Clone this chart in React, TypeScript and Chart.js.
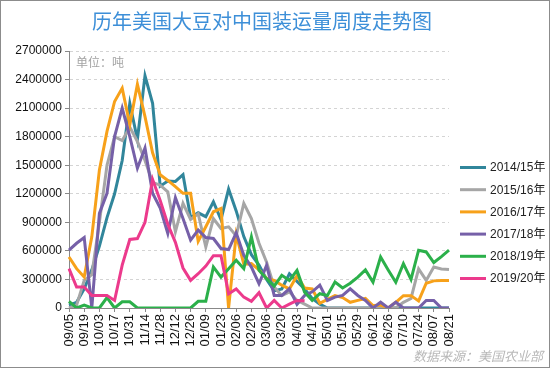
import React, { useEffect, useRef } from "react";
import { Chart, registerables } from "chart.js";

Chart.register(...registerables);

const TITLE = "历年美国大豆对中国装运量周度走势图";
const UNIT = "单位：吨";
const SOURCE = "数据来源：美国农业部";

const weeks = [
  "09/05", "09/12", "09/19", "09/26", "10/03", "10/10", "10/17", "10/24", "10/31", "11/07",
  "11/14", "11/21", "11/28", "12/05", "12/12", "12/19", "12/26", "01/02", "01/09", "01/16",
  "01/23", "01/30", "02/06", "02/13", "02/20", "02/27", "03/06", "03/13", "03/20", "03/27",
  "04/03", "04/10", "04/17", "04/24", "05/01", "05/08", "05/15", "05/22", "05/29", "06/05",
  "06/12", "06/19", "06/26", "07/03", "07/10", "07/17", "07/24", "07/31", "08/07", "08/14",
  "08/21",
];

const seriesNames = ["2014/15年", "2015/16年", "2016/17年", "2017/18年", "2018/19年", "2019/20年"];
const seriesColors = ["#31869b", "#a6a6a6", "#f7a11a", "#7660a8", "#2bb04a", "#ec3a8c"];

const s1415 = [
  30000, 60000, 200000, 400000, 650000, 950000, 1200000, 1550000, 2150000, 1770000,
  2440000, 2150000, 1280000, 1335000, 1330000, 1400000, 950000, 1000000, 960000, 1115000,
  930000, 1250000, 1020000, 750000, 560000, 450000, 300000, 180000, 200000, 360000,
  280000, 200000, 100000, 40000, 0, 0, 0, 0, 0, 0,
  0, 0, 0, 0, 0, 0, 0, 0, 0, 0,
  0,
];
const s1516 = [
  0, 30000, 290000, 350000, 900000, 1500000, 1800000, 1760000, 1900000, 1750000,
  1550000, 1320000, 1290000, 1220000, 800000, 1100000, 930000, 990000, 640000, 940000,
  835000, 853000, 760000, 1100000, 940000, 680000, 480000, 220000, 130000, 170000,
  80000, 40000, 0, 0, 0, 0, 0, 0, 0, 0,
  0, 0, 0, 0, 60000, 100000, 410000, 290000, 430000, 410000,
  405000,
];
const s1617 = [
  536000, 413000, 325000, 747000, 1450000, 1855000, 2170000, 2310000, 1925000, 2350000,
  2010000, 1630000, 1400000, 1340000, 1275000, 1205000, 1205000, 700000, 853000, 1011000,
  1046000, 0, 770000, 460000, 466000, 400000, 310000, 290000, 240000, 200000,
  340000, 210000, 200000, 50000, 90000, 130000, 110000, 60000, 80000, 100000,
  25000, 30000, 0, 60000, 130000, 130000, 75000, 260000, 285000, 288000,
  290000,
];
const s1718 = [
  607000, 680000, 740000, 0, 994000, 1205000, 1800000, 2100000, 1800000, 1468000,
  1680000, 1205000, 1050000, 783000, 1160000, 940000, 712000, 818000, 740000, 730000,
  625000, 614000, 790000, 554000, 430000, 255000, 448000, 132000, 132000, 202000,
  40000, 132000, 170000, 240000, 79000, 114000, 132000, 202000, 132000, 79000,
  0, 61000, 0, 61000, 0, 0, 0, 79000, 79000, 0,
  0,
];
const s1819 = [
  70000, 0, 30000, 0, 0, 110000, 0, 65000, 65000, 0,
  0, 0, 0, 0, 0, 0, 0, 70000, 70000, 430000,
  325000, 413000, 501000, 413000, 747000, 395000, 308000, 230000, 343000, 290000,
  395000, 167000, 79000, 150000, 132000, 272000, 210000, 260000, 325000, 400000,
  272000, 536000, 400000, 270000, 466000, 300000, 607000, 589000, 478000, 540000,
  607000,
];
const s1920 = [
  413000, 220000, 220000, 132000, 132000, 132000, 80000, 450000, 720000, 730000,
  900000, 1350000, 1130000, 880000, 690000, 420000, 290000, 360000, 440000, 550000,
  550000, 150000, 200000, 114000, 70000, 160000, 0, 79000, 0, 40000,
  79000, 75000, null, null, null, null, null, null, null, null,
  null, null, null, null, null, null, null, null, null, null,
  null,
];

const seriesValues = [s1415, s1516, s1617, s1718, s1819, s1920];

const Y_MAX = 2700000;
const Y_STEP = 300000;

const LATIN = "'Liberation Sans', Arial, 'Noto Sans CJK SC', sans-serif";
const CJK = "'Noto Sans CJK SC', 'Liberation Sans', sans-serif";

const decor = {
  id: "decor",
  beforeDraw(chart: any) {
    const c = chart.ctx;
    c.save();
    c.fillStyle = "#ffffff";
    c.fillRect(0, 0, chart.width, chart.height);
    c.restore();
  },
  afterDraw(chart: any) {
    const c = chart.ctx;
    c.save();
    c.strokeStyle = "#8c8c8c";
    c.lineWidth = 1;
    c.strokeRect(0.5, 0.5, chart.width - 1, chart.height - 1);

    c.fillStyle = "#3d8fd8";
    c.font = `20px ${CJK}`;
    c.textAlign = "center";
    c.textBaseline = "middle";
    c.fillText(TITLE, 262, 21);

    c.fillStyle = "#a3a3a3";
    c.font = `12px ${CJK}`;
    c.textAlign = "left";
    c.fillText(UNIT, 76, 62);

    c.fillStyle = "#b8b8b8";
    c.font = `italic 13px ${CJK}`;
    c.fillText(SOURCE, 413, 356);

    chart.data.datasets.forEach((ds: any, i: number) => {
      const y = 167.5 + i * 22.2;
      c.strokeStyle = ds.borderColor;
      c.lineWidth = 3;
      c.beginPath();
      c.moveTo(460, y);
      c.lineTo(486, y);
      c.stroke();
      c.fillStyle = "#222";
      c.font = `12px ${LATIN}`;
      c.fillText(ds.label, 490, y + 0.5);
    });
    c.restore();
  },
};

export default function App() {
  const ref = useRef<HTMLCanvasElement>(null);

  useEffect(() => {
    const canvas = ref.current!;
    const datasets = seriesNames.map((name, i) => ({
      label: name,
      data: seriesValues[i],
      borderColor: seriesColors[i],
      backgroundColor: seriesColors[i],
      borderWidth: 3,
      pointRadius: 0,
      tension: 0,
      fill: false,
      spanGaps: false,
      order: seriesNames.length - i,
    }));
    const chart = new Chart(canvas, {
      type: "line",
      data: { labels: weeks, datasets },
      options: {
        responsive: false,
        animation: false,
        devicePixelRatio: 1,
        layout: { padding: { top: 51, right: 101, bottom: 0, left: 0 } },
        plugins: {
          legend: { display: false },
          title: { display: false },
          tooltip: { enabled: false },
        },
        scales: {
          x: {
            type: "category",
            offset: false,
            grid: {
              drawOnChartArea: false,
              tickLength: 4,
              tickColor: (ctx: any) => (ctx.index % 2 === 0 ? "#888888" : "rgba(0,0,0,0)"),
            },
            border: { color: "#888888", width: 1 },
            ticks: {
              autoSkip: false,
              maxRotation: 90,
              minRotation: 90,
              padding: 2,
              color: "#111",
              font: { family: LATIN, size: 13 },
              callback: (_v: any, i: number) => (i % 2 === 0 ? weeks[i] : ""),
            },
            afterFit: (s: any) => {
              s.height = 60;
            },
          },
          y: {
            min: 0,
            max: Y_MAX,
            grid: {
              color: (ctx: any) => (ctx.tick && ctx.tick.value === 0 ? "rgba(0,0,0,0)" : "#d4d4d4"),
              tickLength: 4,
              tickColor: "#888888",
            },
            border: { color: "#888888", width: 1, dash: [3, 3] },
            ticks: {
              stepSize: Y_STEP,
              padding: 3,
              color: "#111",
              font: { family: LATIN, size: 12 },
              callback: (v: any) => String(v),
            },
            afterFit: (s: any) => {
              s.width = 69;
            },
          },
        },
      },
      plugins: [decor],
    } as any);
    return () => chart.destroy();
  }, []);

  return (
    <div style={{ position: "fixed", left: 0, top: 0, width: 550, height: 368, background: "#fff" }}>
      <canvas ref={ref} width={550} height={368} style={{ display: "block", width: 550, height: 368 }} />
    </div>
  );
}
